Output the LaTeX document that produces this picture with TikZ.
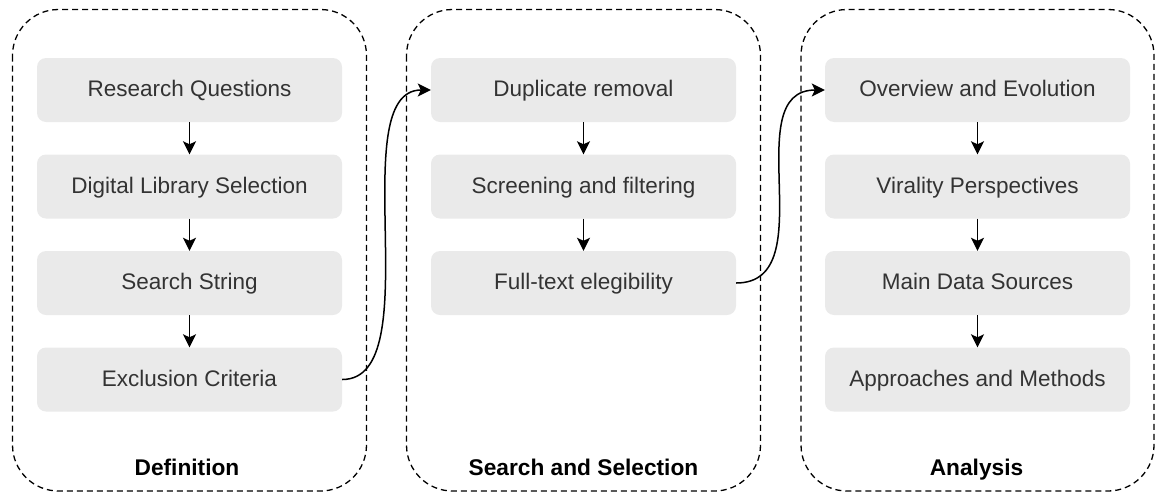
\documentclass[tikz,border=0pt]{standalone}
\usepackage{fontspec}
\setmainfont{Liberation Sans}
\usetikzlibrary{arrows.meta}
\definecolor{boxfill}{HTML}{EAEAEA}
\definecolor{boxtext}{HTML}{333333}
\begin{document}
\begin{tikzpicture}[x=1pt,y=-1pt,
  stage/.style={draw=black,dash pattern=on 6pt off 4pt,line width=1.3pt,rounded corners=46pt},
  stepbox/.style={fill=boxfill,rounded corners=9pt,minimum width=305pt,minimum height=64pt,
    inner sep=0pt,text=boxtext,text height=16pt,text depth=2.6pt,
    font=\fontsize{22.5}{27}\selectfont},
  title/.style={anchor=base,font=\fontsize{22.7}{27}\selectfont\bfseries,text=black},
  flow/.style={line width=1.5pt,-{Stealth[length=13pt,width=13pt,inset=3pt]}}]
\useasboundingbox (0,0) rectangle (1155,493);

% phase containers
\draw[stage] (12.5,9.5) rectangle (366.5,491);
\draw[stage] (406.5,9.5) rectangle (760.5,491);
\draw[stage] (801,9.5) rectangle (1154,491);

% phase titles
\node[title] (t1) at (187,475) {Definition};
\node[title] (t2) at (583.5,475) {Search and Selection};
\node[title] (t3) at (976.5,475) {Analysis};

% Definition steps
\node[stepbox] (rq) at (189.5,90)   {Research Questions};
\node[stepbox] (dl) at (189.5,186.5) {Digital Library Selection};
\node[stepbox] (ss) at (189.5,283)  {Search String};
\node[stepbox] (ec) at (189.5,379.5) {Exclusion Criteria};

% Search and Selection steps
\node[stepbox] (dr) at (583.5,90)   {Duplicate removal};
\node[stepbox] (sf) at (583.5,186.5) {Screening and filtering};
\node[stepbox] (fe) at (583.5,283)  {Full-text elegibility};

% Analysis steps
\node[stepbox] (ov) at (977.5,90)   {Overview and Evolution};
\node[stepbox] (vp) at (977.5,186.5) {Virality Perspectives};
\node[stepbox] (md) at (977.5,283)  {Main Data Sources};
\node[stepbox] (am) at (977.5,379.5) {Approaches and Methods};

% vertical flow inside each phase
\draw[flow] (rq) -- (dl);
\draw[flow] (dl) -- (ss);
\draw[flow] (ss) -- (ec);
\draw[flow] (dr) -- (sf);
\draw[flow] (sf) -- (fe);
\draw[flow] (ov) -- (vp);
\draw[flow] (vp) -- (md);
\draw[flow] (md) -- (am);

% transitions between phases
\draw[flow] (ec.east) .. controls (dr.west |- ec.east) and (ec.east |- dr.west) .. (dr.west);
\draw[flow] (fe.east) .. controls (ov.west |- fe.east) and (fe.east |- ov.west) .. (ov.west);
\end{tikzpicture}
\end{document}
